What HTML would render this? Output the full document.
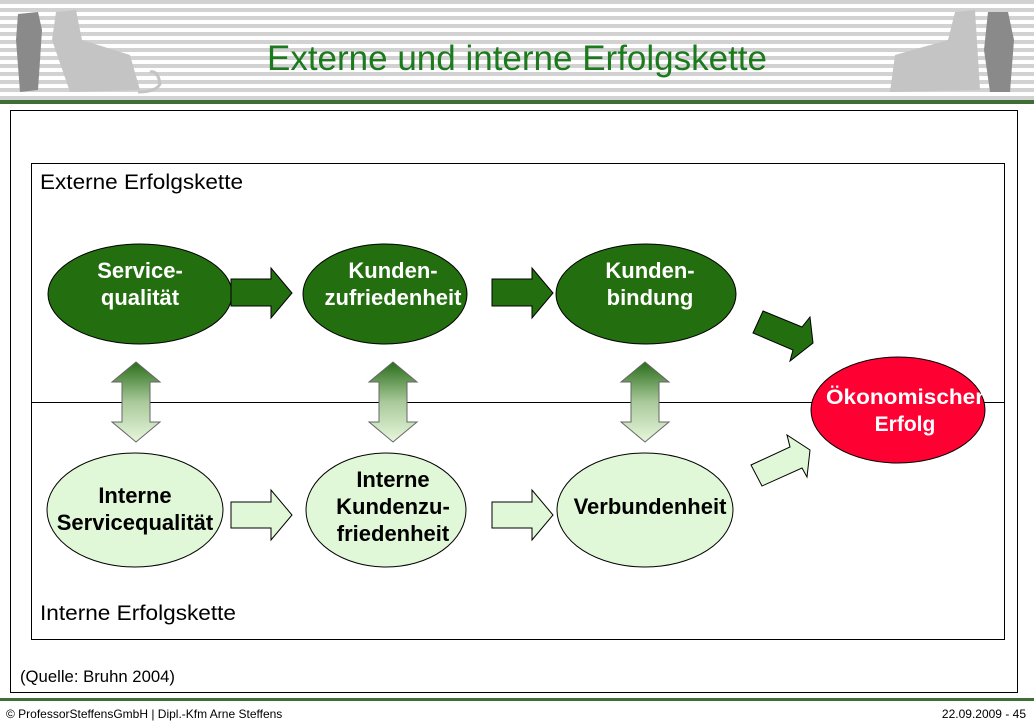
<!DOCTYPE html>
<html><head><meta charset="utf-8"><style>
html,body{margin:0;padding:0;background:#fff;}
body{width:1034px;height:724px;position:relative;overflow:hidden;font-family:"Liberation Sans",sans-serif;}
.stripes{position:absolute;left:0;top:0;width:1034px;height:100px;background:repeating-linear-gradient(to bottom,#d2d2d2 0px,#d2d2d2 4px,#fff 4px,#fff 8px);}
</style></head><body>
<div class="stripes"></div>
<svg width="1034" height="724" style="position:absolute;left:0;top:0" font-family="Liberation Sans, sans-serif">
<defs>
<linearGradient id="vg" x1="0" y1="0" x2="0" y2="1">
<stop offset="0" stop-color="#2a6e1a"/><stop offset="0.5" stop-color="#a9c99a"/><stop offset="1" stop-color="#e6f7dc"/></linearGradient>
</defs>
<g fill="#8a8a8a"><path d="M18 14 L38 12 L42 30 L38 90 L20 92 L16 40 Z"/></g>
<g fill="#c4c4c4"><path d="M56 12 L76 10 L82 40 L130 55 L140 90 L70 92 L52 40 Z"/><path d="M150 72 q8 -2 10 12 q-4 8 -22 8" fill="none" stroke="#c4c4c4" stroke-width="3"/></g>
<g fill="#c4c4c4"><path d="M955 12 L975 10 L980 90 L890 92 L895 55 L948 40 Z"/></g>
<g fill="#8a8a8a"><path d="M988 12 L1008 12 L1014 40 L1010 92 L990 92 L984 50 Z"/></g>
<text x="517" y="70" text-anchor="middle" font-size="35" fill="#1b7a1b">Externe und interne Erfolgskette</text>
<rect x="0" y="100" width="1034" height="4" fill="#3f6f35"/>
<rect x="10.5" y="110.5" width="1007" height="582" fill="#fff" stroke="#000"/>
<rect x="31.5" y="163.5" width="973" height="476" fill="#fff" stroke="#000"/>
<line x1="31" y1="402.5" x2="1004" y2="402.5" stroke="#000"/>
<text x="40" y="189" font-size="21" fill="#000" textLength="203" lengthAdjust="spacingAndGlyphs">Externe Erfolgskette</text>
<text x="40" y="620" font-size="21" fill="#000" textLength="196" lengthAdjust="spacingAndGlyphs">Interne Erfolgskette</text>
<text x="20" y="682" font-size="16.5" fill="#000" textLength="155" lengthAdjust="spacingAndGlyphs">(Quelle:  Bruhn 2004)</text>
<g fill="#236e0f" stroke="#000">
<ellipse cx="140" cy="294" rx="92" ry="50"/>
<ellipse cx="385" cy="294" rx="82" ry="50"/>
<ellipse cx="646" cy="294" rx="90" ry="50"/>
</g>
<g fill="#fff" font-weight="bold" font-size="22" text-anchor="middle">
<text x="140" y="278">Service-</text><text x="140" y="305">qualität</text>
<text x="393" y="278">Kunden-</text><text x="393" y="305">zufriedenheit</text>
<text x="650" y="278">Kunden-</text><text x="650" y="305">bindung</text>
</g>
<g fill="#e0f7d8" stroke="#000">
<ellipse cx="135" cy="510" rx="88" ry="57"/>
<ellipse cx="386" cy="510" rx="80" ry="57"/>
<ellipse cx="645" cy="510" rx="88" ry="57"/>
</g>
<g fill="#000" font-weight="bold" font-size="22" text-anchor="middle">
<text x="135" y="503">Interne</text><text x="135" y="530">Servicequalität</text>
<text x="393" y="487">Interne</text><text x="393" y="514">Kundenzu-</text><text x="393" y="541">friedenheit</text>
<text x="650" y="514">Verbundenheit</text>
</g>
<ellipse cx="898" cy="410" rx="87" ry="53" fill="#ff0033" stroke="#000"/>
<g fill="#fff" font-weight="bold" font-size="21" text-anchor="middle">
<text x="905" y="404" textLength="158" lengthAdjust="spacingAndGlyphs">Ökonomischer</text><text x="905" y="431">Erfolg</text></g>
<g fill="#236e0f" stroke="#000">
<path d="M231 279 H271 V268 L292 293 L271 318 V306 H231 Z"/>
<path d="M492 279 H532 V268 L553 293 L532 318 V306 H492 Z"/>
<path d="M763 311 L802 327 L810 317 L813 343 L790 361 L793 350 L753 333 Z"/>
</g>
<g fill="#e0f7d8" stroke="#000">
<path d="M231 502 H271 V490 L292 515 L271 540 V528 H231 Z"/>
<path d="M492 502 H532 V490 L553 515 L532 540 V528 H492 Z"/>
<path d="M751 465 L790 447 L787 435 L810 450 L807 477 L802 468 L762 486 Z"/>
</g>
<g fill="url(#vg)" stroke="#666">
<path d="M136 362 L160 382 H150 V422 H160 L136 442 L112 422 H122 V382 H112 Z"/>
<path d="M393 362 L417 382 H407 V422 H417 L393 442 L369 422 H379 V382 H369 Z"/>
<path d="M645 362 L669 382 H659 V422 H669 L645 442 L621 422 H631 V382 H621 Z"/>
</g>
<rect x="0" y="698" width="1034" height="3" fill="#3f6f35"/>
<text x="6" y="718" font-size="12" fill="#000">© ProfessorSteffensGmbH | Dipl.-Kfm Arne Steffens</text>
<text x="1026" y="718" font-size="12" fill="#000" text-anchor="end">22.09.2009 - 45</text>
</svg>
</body></html>
